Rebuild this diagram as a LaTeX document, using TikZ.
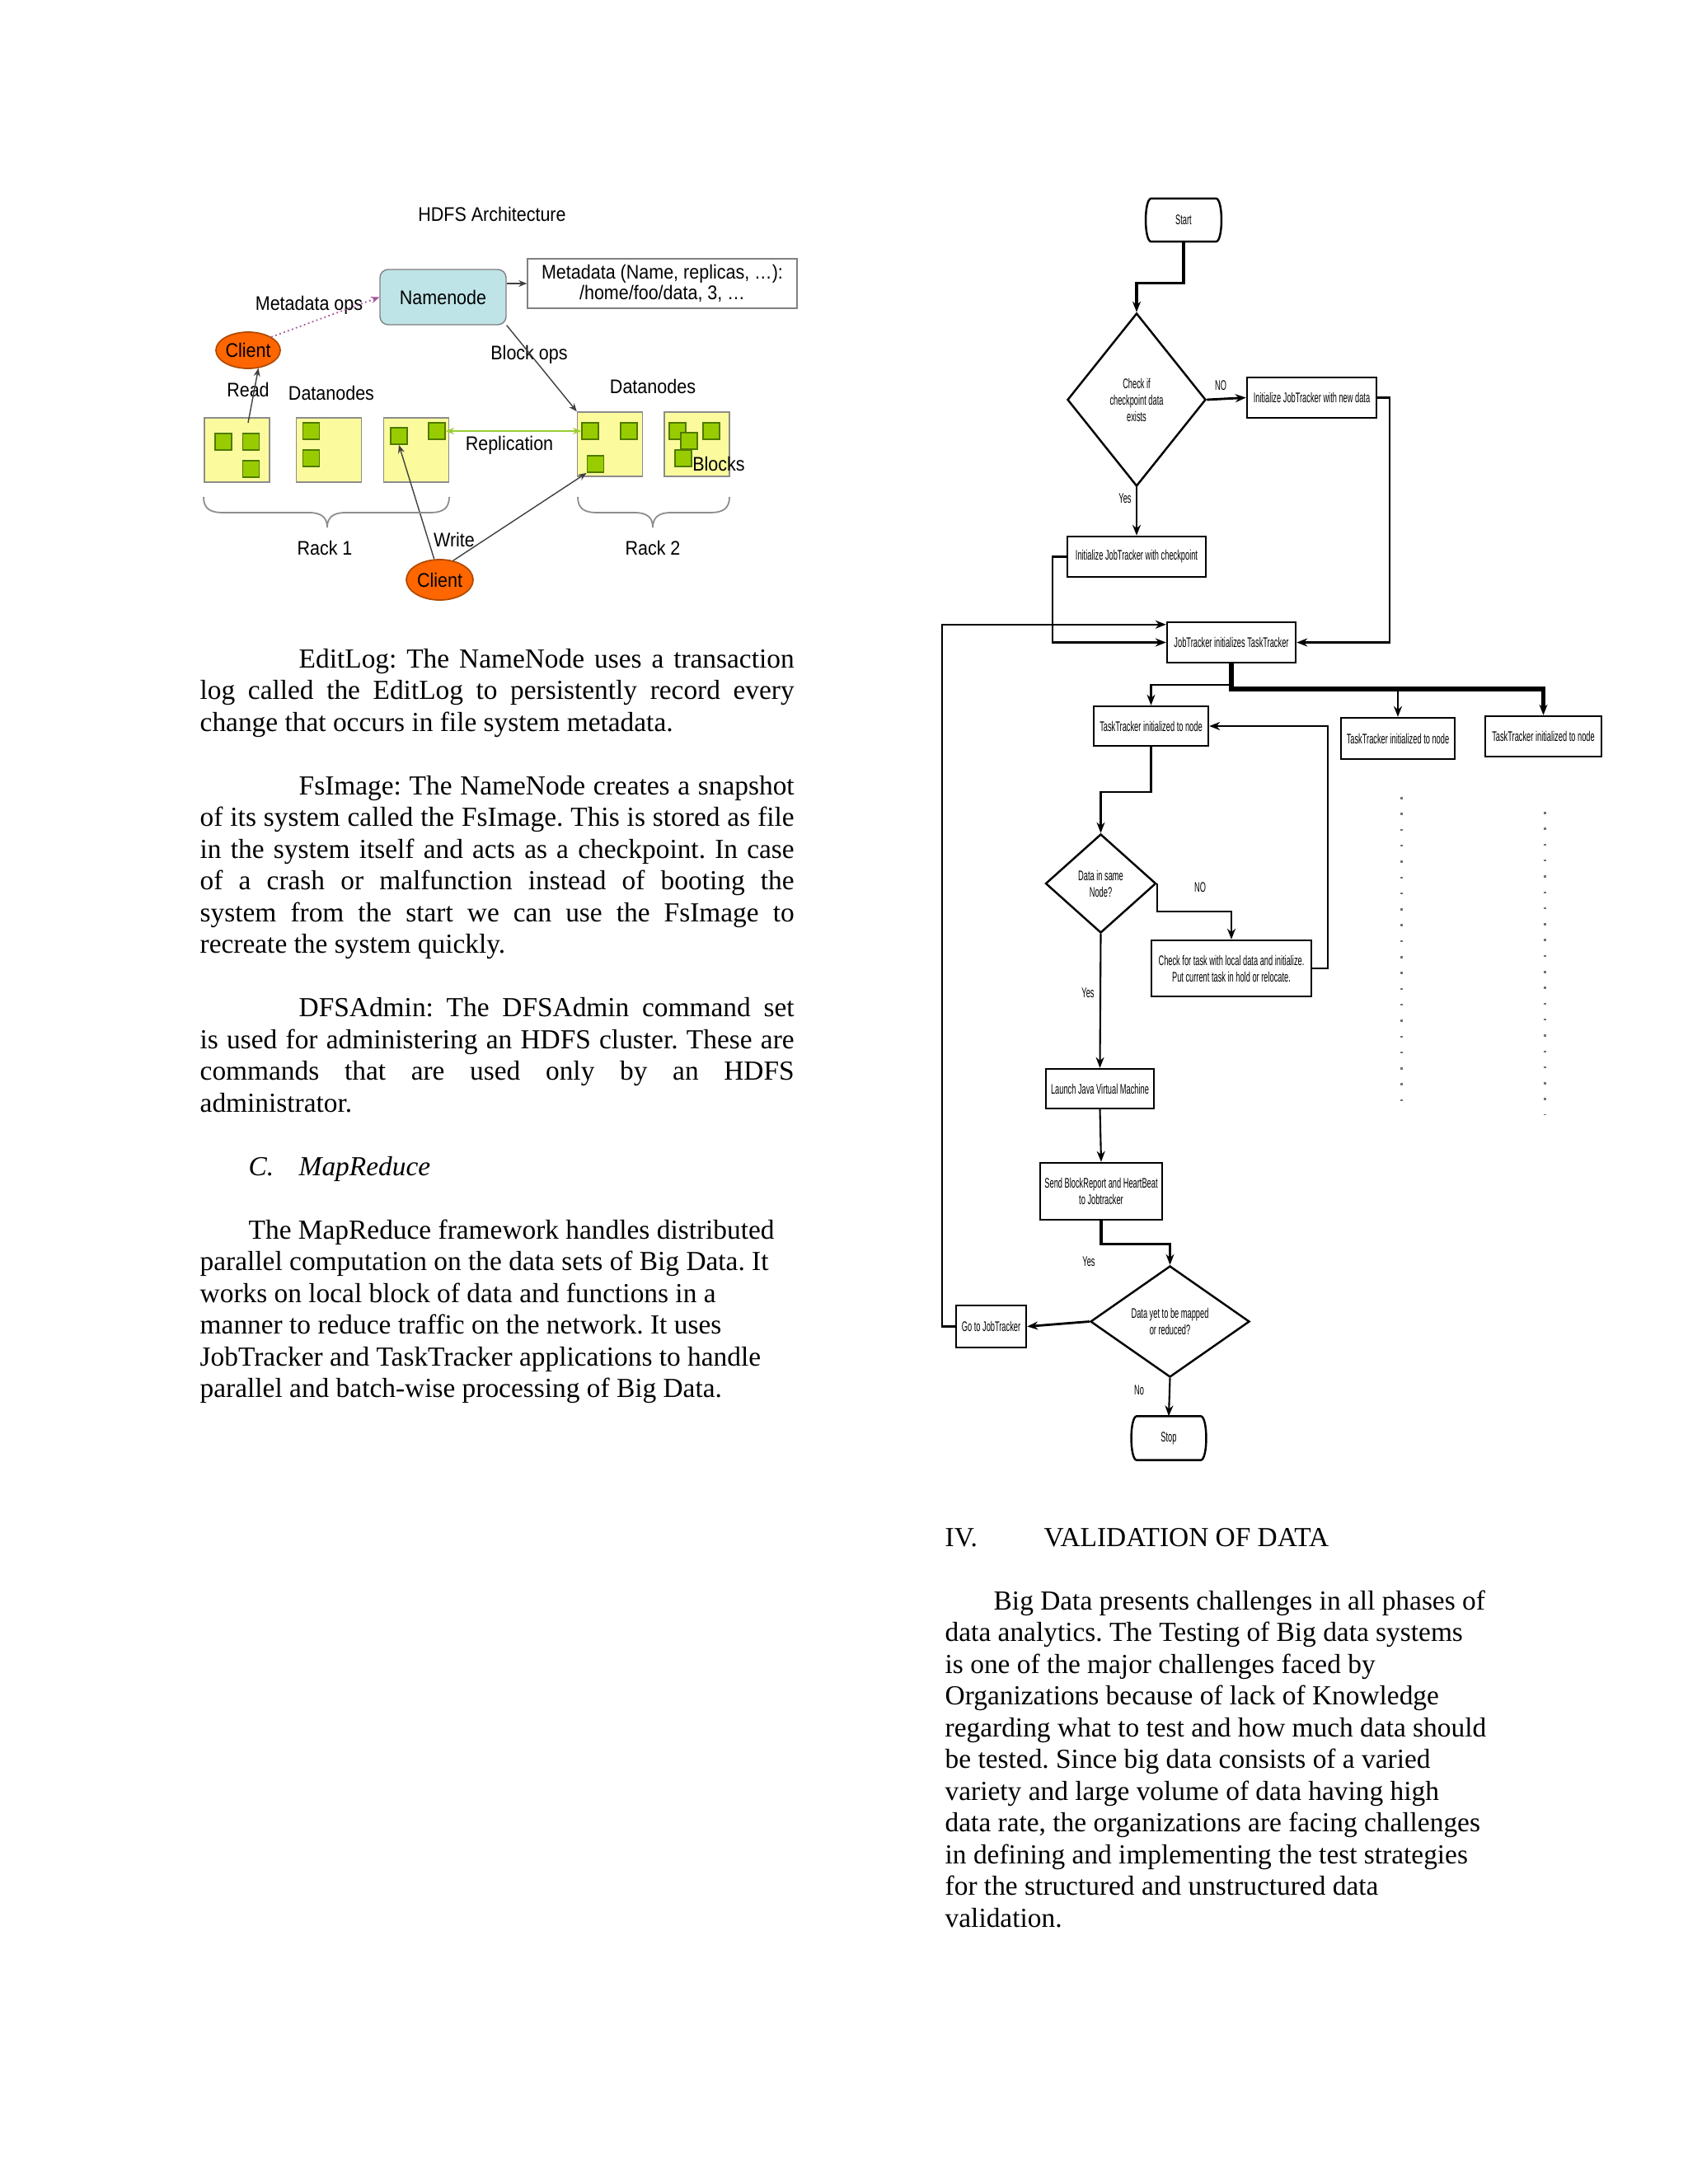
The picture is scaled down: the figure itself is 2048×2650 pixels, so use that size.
\documentclass[tikz,border=0pt]{standalone}
\usepackage{fontspec}
\setmainfont{Liberation Serif}
\newfontfamily\hfont[FakeStretch=0.9]{Liberation Sans}
\newfontfamily\fcfont[FakeStretch=0.55]{Liberation Sans}
\usetikzlibrary{arrows.meta,shapes.geometric,calc}
\definecolor{nncol}{HTML}{BFE4E8}
\definecolor{dnyellow}{HTML}{FBFB9E}
\definecolor{blkgreen}{HTML}{99CC00}
\definecolor{blkborder}{HTML}{4F7A00}
\definecolor{clientfill}{HTML}{FF6600}
\definecolor{clientborder}{HTML}{B04A00}
\definecolor{metaops}{HTML}{A8509A}
\definecolor{repl}{HTML}{9ACD32}
\frenchspacing
\begin{document}
\frenchspacing
\begin{tikzpicture}[x=0.1mm,y=-0.1mm,
  body/.style={font=\fontsize{9.5}{11.4}\selectfont, inner sep=0, anchor=base west},
  hl/.style={font=\hfont\fontsize{6.8}{7.3}\selectfont, inner sep=0},
  dn/.style={draw=black!45, fill=dnyellow, minimum width=7.9mm, minimum height=7.8mm, inner sep=0},
  blk/.style={draw=blkborder, fill=blkgreen, minimum width=2mm, minimum height=2mm, inner sep=0, line width=0.5pt},
  client/.style={ellipse, draw=clientborder, fill=clientfill, inner sep=0, hl, line width=0.5pt},
  harr/.style={draw=black!75, line width=0.4pt, -{Stealth[length=1mm,width=0.8mm]}},
  fl/.style={font=\fcfont\fontsize{4.8}{5.7}\selectfont, inner sep=0, align=center},
  fcbox/.style={draw, line width=0.7pt, fl},
  decision/.style={diamond, draw, line width=0.7pt, fl},
  arr/.style={line width=0.6pt, -{Stealth[length=1.3mm,width=1mm]}},
  dotcol/.style={draw=black!55, line width=0.3mm, dash pattern=on 0.25mm off 1.68mm}
]
\fill[white] (0,0) rectangle (2048,2650);
\useasboundingbox (0,0) rectangle (2048,2650);

% ================= HDFS architecture =================
\node[hl] (title) at (597,260) {HDFS Architecture};
\node[draw=black!50, fill=nncol, rounded corners=1mm, minimum width=15.3mm, minimum height=6.7mm, hl] (nn) at (537.5,360.5) {Namenode};
\node[draw=black!50, minimum width=32.7mm, minimum height=6mm, hl, align=center] (meta) at (803.5,344) {Metadata (Name, replicas, \ldots):\\/home/foo/data, 3, \ldots};
\draw[harr] (nn.east |- meta.west) -- (meta.west);

\node[client, minimum width=7.8mm, minimum height=4.4mm] (c1) at (301,425) {Client};
\node[client, minimum width=8.1mm, minimum height=4.9mm] (c2) at (533.5,703.5) {Client};

\node[hl] (lmops) at (375,370) {Metadata ops};
\draw[metaops, densely dotted, line width=0.5pt, -{Stealth[length=1mm,width=0.8mm]}] (c1.north east) -- (nn.west);

% datanodes
\node[dn] (dn1) at (287.5,546) {};
\node[dn] (dn2) at (399,546) {};
\node[dn] (dn3) at (505,546) {};
\node[dn] (dn4) at (740,539) {};
\node[dn] (dn5) at (845.5,539) {};
% blocks
\node[blk] (b1a) at (271,536) {};
\node[blk] (b1b) at (304.5,536) {};
\node[blk] (b1c) at (304.5,569) {};
\node[blk] (b2a) at (377.5,523) {};
\node[blk] (b2b) at (377.5,556) {};
\node[blk] (b3a) at (484,529) {};
\node[blk] (b3b) at (530,523) {};
\node[blk] (b4a) at (716,523) {};
\node[blk] (b4b) at (763,523) {};
\node[blk] (b4c) at (722.5,563) {};
\node[blk] (b5a) at (822,523) {};
\node[blk] (b5b) at (863,523) {};
\node[blk] (b5c) at (836,535) {};
\node[blk] (b5d) at (829,556) {};

\node[hl] (lread) at (301,473) {Read};
\node[hl] (ldn1) at (402,477) {Datanodes};
\node[hl] (lbops) at (642,430) {Block ops};
\node[hl] (ldn2) at (792,469) {Datanodes};
\node[hl] (lrepl) at (618,540) {Replication};
\node[hl] (lblocks) at (872,563) {Blocks};
\node[hl] (lrack1) at (394,665) {Rack 1};
\node[hl] (lrack2) at (792,665) {Rack 2};
\node[hl] (lwrite) at (551,655) {Write};

\coordinate (rd) at (301,513);
\draw[harr] (rd) -- (c1.-60);
\draw[harr] (nn.south east) -- (dn4.north west);
\draw[repl, line width=0.7pt, {Stealth[length=1mm,width=0.8mm]}-{Stealth[length=1mm,width=0.8mm]}] (b3b.east) -- (b4a.west);
\draw[harr] (c2.105) -- (b3a.south);
\draw[harr] (c2.55) -- (b4c.south west);

% braces
\draw[black!45, line width=0.5pt] (247,603) .. controls (247,617) and (255,622) .. (270,622) -- (375,622) .. controls (390,622) and (397,628) .. (397,640) .. controls (397,628) and (404,622) .. (419,622) -- (522,622) .. controls (537,622) and (545,617) .. (545,603);
\draw[black!45, line width=0.5pt] (701,603) .. controls (701,617) and (709,622) .. (724,622) -- (770,622) .. controls (785,622) and (792,628) .. (792,640) .. controls (792,628) and (799,622) .. (814,622) -- (862,622) .. controls (877,622) and (885,617) .. (885,603);

% ================= Flowchart =================
\node[minimum width=9.5mm, minimum height=5.1mm, fl] (start) at (1436,267) {Start};
\draw[line width=0.7pt] ([xshift=0.9mm]start.north west) -- ([xshift=-0.9mm]start.north east) .. controls (start.north east) and (start.south east) .. ([xshift=-0.9mm]start.south east) -- ([xshift=0.9mm]start.south west) .. controls (start.south west) and (start.north west) .. cycle;

\node[decision, minimum width=16.8mm, minimum height=21mm] (d1) at (1379,485) {Check if\\checkpoint data\\exists};
\node[fcbox, minimum width=15.7mm, minimum height=4.9mm] (nd) at (1591.5,482.5) {Initialize JobTracker with new data};
\node[fcbox, minimum width=16.8mm, minimum height=4.9mm] (cp) at (1379,675.5) {Initialize JobTracker with checkpoint};
\node[fcbox, minimum width=15.6mm, minimum height=4.9mm] (jt) at (1494,779.5) {JobTracker initializes TaskTracker};
\node[fcbox, minimum width=13.9mm, minimum height=4.8mm] (tt1) at (1396.5,881) {TaskTracker initialized to node};
\node[fcbox, minimum width=13.8mm, minimum height=5mm] (tt2) at (1696,896) {TaskTracker initialized to node};
\node[fcbox, minimum width=14.1mm, minimum height=4.9mm] (tt3) at (1872.5,893.5) {TaskTracker initialized to node};
\node[decision, minimum width=13.4mm, minimum height=12mm] (d2) at (1335.5,1072) {Data in same\\Node?};
\node[fcbox, minimum width=19.4mm, minimum height=6.8mm] (ck) at (1494,1175) {Check for task with local data and initialize.\\Put current task in hold or relocate.};
\node[fcbox, minimum width=13.1mm, minimum height=4.8mm] (jvm) at (1334.5,1321) {Launch Java Virtual Machine};
\node[fcbox, minimum width=14.8mm, minimum height=6.9mm] (sbr) at (1336,1445.5) {Send BlockReport and HeartBeat\\to Jobtracker};
\node[decision, minimum width=19.3mm, minimum height=13.5mm] (d3) at (1419.5,1603.5) {Data yet to be mapped\\or reduced?};
\node[fcbox, minimum width=8.5mm, minimum height=5.1mm] (go) at (1202.5,1609.5) {Go to JobTracker};
\node[minimum width=9.4mm, minimum height=5.2mm, fl] (stop) at (1418,1745) {Stop};
\draw[line width=0.7pt] ([xshift=0.9mm]stop.north west) -- ([xshift=-0.9mm]stop.north east) .. controls (stop.north east) and (stop.south east) .. ([xshift=-0.9mm]stop.south east) -- ([xshift=0.9mm]stop.south west) .. controls (stop.south west) and (stop.north west) .. cycle;

% labels
\node[fl] (lno1) at (1481,468) {NO};
\node[fl] (lyes1) at (1365,605) {Yes};
\node[fl] (lno2) at (1456,1077) {NO};
\node[fl] (lyes2) at (1320,1205) {Yes};
\node[fl] (lyes3) at (1321,1531) {Yes};
\node[fl] (lno3) at (1382,1687) {No};

% connectors
\draw[arr, line width=0.9pt] (start.south) -- ([yshift=-5mm]start.south) -| (d1.north);
\draw[arr, line width=0.8pt] (d1.east) -- (nd.west);
\draw[arr, line width=0.8pt] (d1.south) -- (cp.north);
\draw[arr] (nd.east) -- ++(15,0) |- (jt.east);
\draw[arr] (cp.west) -- ++(-17,0) |- (jt.west);
\draw[arr] (go.west) -- ++(-16,0) |- ([yshift=-0.4mm]jt.north west);
\draw[arr] (jt.south) -- ([yshift=-2.6mm]jt.south) -| (tt1.north);
\coordinate (br) at (1494,836);
\draw[arr, line width=1.6pt] (jt.south) -- (br) -| (tt3.north);
\draw[arr] (br -| tt2.north) -- (tt2.north);
\draw[arr] (tt1.south) -- ([yshift=-5.5mm]tt1.south) -| (d2.north);
\draw[arr] (d2.east) -- ([yshift=-3.4mm]d2.east) -| (ck.north);
\draw[arr] (ck.east) -- ++(19,0) |- (tt1.east);
\draw[arr] (d2.south) -- (jvm.north);
\draw[arr] (jvm.south) -- (sbr.north);
\draw[arr, line width=0.9pt] (sbr.south) -- ([yshift=-2.8mm]sbr.south) -| (d3.north);
\draw[arr, line width=0.8pt] (d3.west) -- (go.east);
\draw[arr] (d3.south) -- (stop.north);

% dotted columns
\draw[dotcol] (1700,967) -- (1700,1352);
\draw[dotcol] (1874,985) -- (1874,1352);

% ================= Left column text =================
\node[body] (e1) at (362,810) {\makebox[60.1mm][s]{EditLog: The NameNode uses a transaction}};
\node[body] (e2) at (242,848.5) {\makebox[72.1mm][s]{log called the EditLog to persistently record every}};
\node[body] (e3) at (242,887) {change that occurs in file system metadata.};
\node[body] (f1) at (362,964) {\makebox[60.1mm][s]{FsImage: The NameNode creates a snapshot}};
\node[body] (f2) at (242,1002.5) {\makebox[72.1mm][s]{of its system called the FsImage. This is stored as file}};
\node[body] (f3) at (242,1041) {\makebox[72.1mm][s]{in the system itself and acts as a checkpoint. In case}};
\node[body] (f4) at (242,1079.5) {\makebox[72.1mm][s]{of a crash or malfunction instead of booting the}};
\node[body] (f5) at (242,1118) {\makebox[72.1mm][s]{system from the start we can use the FsImage to}};
\node[body] (f6) at (242,1156.5) {recreate the system quickly.};
\node[body] (g1) at (362,1233.5) {\makebox[60.1mm][s]{DFSAdmin: The DFSAdmin command set}};
\node[body] (g2) at (242,1272) {\makebox[72.1mm][s]{is used for administering an HDFS cluster. These are}};
\node[body] (g3) at (242,1310.5) {\makebox[72.1mm][s]{commands that are used only by an HDFS}};
\node[body] (g4) at (242,1349) {administrator.};
\node[body] (hc) at (301,1426) {\itshape C.};
\node[body] (hm) at (362,1426) {\itshape MapReduce};
\node[body] (m1) at (301,1503) {The MapReduce framework handles distributed};
\node[body] (m2) at (242,1541.5) {parallel computation on the data sets of Big Data. It};
\node[body] (m3) at (242,1580) {works on local block of data and functions in a};
\node[body] (m4) at (242,1618.5) {manner to reduce traffic on the network. It uses};
\node[body] (m5) at (242,1657) {JobTracker and TaskTracker applications to handle};
\node[body] (m6) at (242,1695.5) {parallel and batch-wise processing of Big Data.};

% ================= Right column text =================
\node[body] (riv) at (1146,1876) {IV.};
\node[body] (rhead) at (1266,1876) {VALIDATION OF DATA};
\node[body] (r2) at (1205,1953) {Big Data presents challenges in all phases of};
\node[body] (r3) at (1146,1991.5) {data analytics. The Testing of Big data systems};
\node[body] (r4) at (1146,2030) {is one of the major challenges faced by};
\node[body] (r5) at (1146,2068.5) {Organizations because of lack of Knowledge};
\node[body] (r6) at (1146,2107) {regarding what to test and how much data should};
\node[body] (r7) at (1146,2145.5) {be tested. Since big data consists of a varied};
\node[body] (r8) at (1146,2184) {variety and large volume of data having high};
\node[body] (r9) at (1146,2222.5) {data rate, the organizations are facing challenges};
\node[body] (r10) at (1146,2261) {in defining and implementing the test strategies};
\node[body] (r11) at (1146,2299.5) {for the structured and unstructured data};
\node[body] (r12) at (1146,2338) {validation.};
\end{tikzpicture}
\end{document}
